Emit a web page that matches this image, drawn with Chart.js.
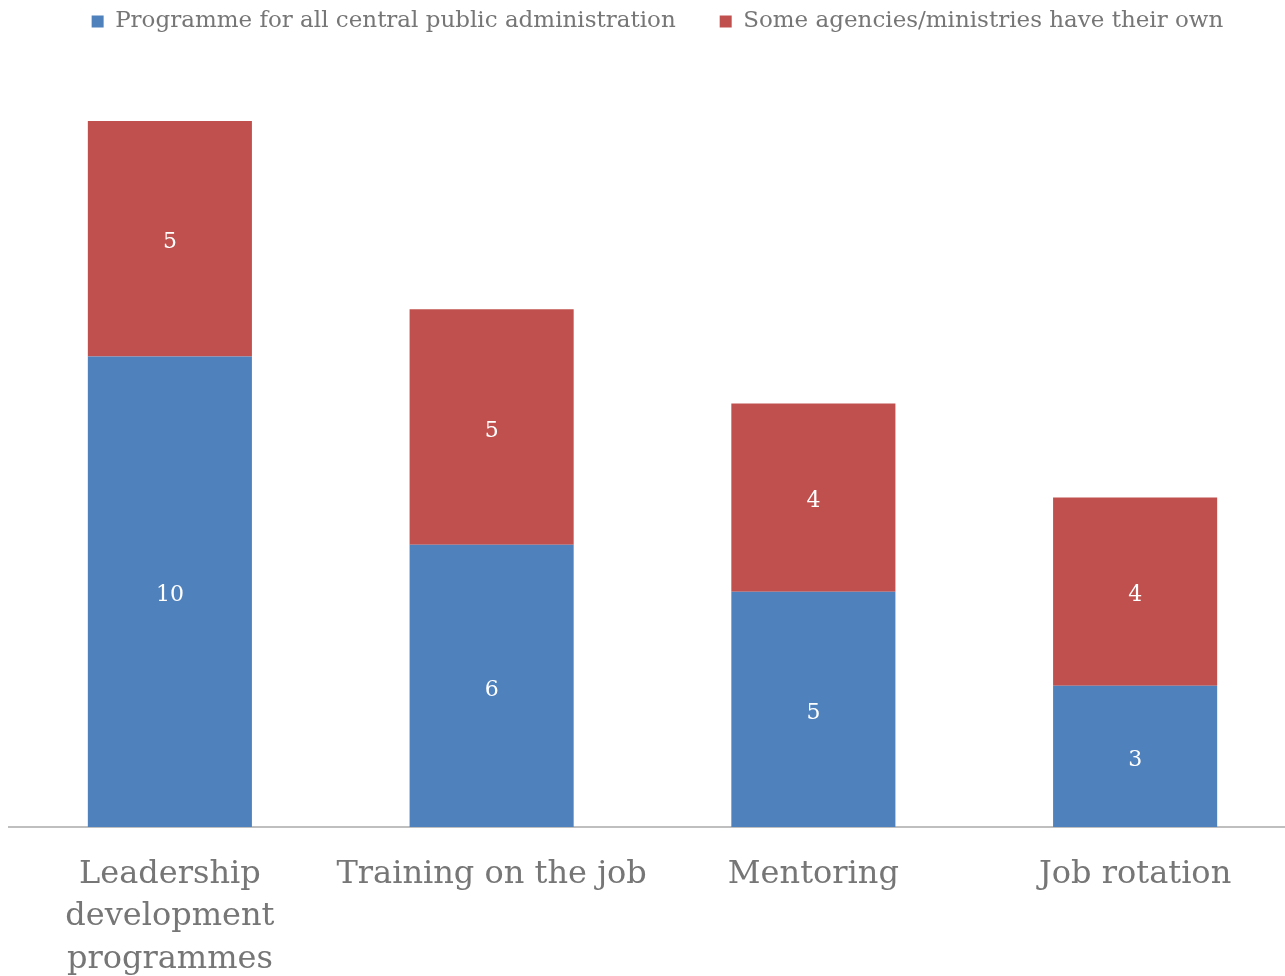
<!DOCTYPE html>
<html>
<head>
<meta charset="utf-8">
<script src="https://cdn.jsdelivr.net/npm/chart.js@4/dist/chart.umd.min.js"></script>
<style>
    html, body { margin: 0; padding: 0; background: #fff; overflow: hidden; }
    #wrap { position: relative; width: 1296px; height: 976px; }
</style>
</head>
<body>
<div id="wrap"><canvas id="chart"></canvas></div>
<script>
// 类别与两组堆叠数据
const categories = [
    ['Leadership', 'development', 'programmes'],
    'Training on the job',
    'Mentoring',
    'Job rotation'
];
const seriesNames = ['Programme for all central public administration', 'Some agencies/ministries have their own'];
const centralValues = [10, 6, 5, 3];
const ownValues = [5, 5, 4, 4];

const serifFont = "'DejaVu Serif', 'Liberation Serif', serif";
const textGray = '#767676';

// 在每个柱段中间写数值
const barValueLabels = {
    id: 'barValueLabels',
    afterDatasetsDraw(chart) {
        const ctx = chart.ctx;
        ctx.save();
        ctx.fillStyle = '#ffffff';
        ctx.font = '22px ' + serifFont;
        ctx.textAlign = 'center';
        ctx.textBaseline = 'middle';
        chart.data.datasets.forEach((ds, i) => {
            const meta = chart.getDatasetMeta(i);
            meta.data.forEach((bar, j) => {
                const p = bar.getProps(['x', 'y', 'base'], true);
                ctx.fillText(String(ds.data[j]), p.x, (p.y + p.base) / 2 + 4);
            });
        });
        ctx.restore();
    }
};

// 固定图例高度，图例整体上移贴近顶部
const legendLayout = {
    id: 'legendLayout',
    beforeInit(chart) {
        const legend = chart.legend;
        const fit = legend.fit;
        legend.fit = function () {
            fit.apply(this, arguments);
            this.height = 74;
        };
        const draw = legend.draw;
        legend.draw = function () {
            const ctx = this.ctx;
            ctx.save();
            ctx.translate(5, -34);
            draw.apply(this, arguments);
            ctx.restore();
        };
    }
};

new Chart(document.getElementById('chart'), {
    type: 'bar',
    data: {
        labels: categories,
        datasets: [
            {
                label: seriesNames[0],
                data: centralValues,
                backgroundColor: '#4f81bd',
                barPercentage: 0.51,
                categoryPercentage: 1
            },
            {
                label: seriesNames[1],
                data: ownValues,
                backgroundColor: '#c0504d',
                barPercentage: 0.51,
                categoryPercentage: 1
            }
        ]
    },
    options: {
        responsive: true,
        maintainAspectRatio: false,
        animation: false,
        layout: { padding: { left: 9, right: 0, top: 0, bottom: 0 } },
        scales: {
            x: {
                stacked: true,
                grid: { display: false, drawTicks: false },
                border: { color: '#bfbfbf', width: 2 },
                ticks: {
                    color: textGray,
                    padding: 26,
                    font: { family: serifFont, size: 32, lineHeight: 1.33 },
                    maxRotation: 0,
                    autoSkip: false
                },
                afterFit(scale) { scale.height = 149; }
            },
            y: {
                stacked: true,
                display: false,
                min: 0,
                max: 16
            }
        },
        plugins: {
            legend: {
                position: 'top',
                labels: {
                    color: textGray,
                    boxWidth: 12,
                    boxHeight: 12,
                    padding: 44,
                    font: { family: serifFont, size: 23 }
                }
            },
            tooltip: { enabled: false }
        }
    },
    plugins: [barValueLabels, legendLayout]
});
</script>
</body>
</html>
